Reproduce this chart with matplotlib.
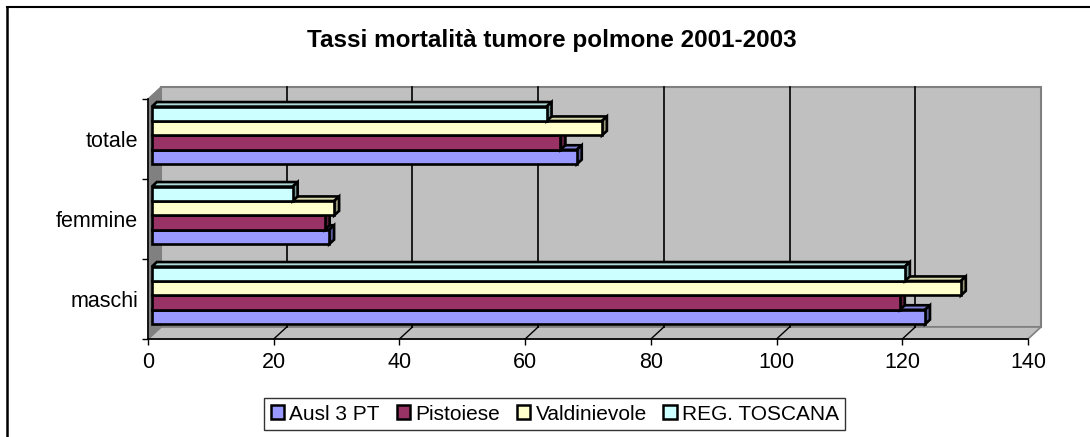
import numpy as np
import matplotlib.pyplot as plt
from matplotlib.patches import Polygon, Patch
from matplotlib.lines import Line2D

plt.rcParams['font.family'] = ['Liberation Sans', 'DejaVu Sans']

# tassi per 100.000 - categorie dal basso verso l'alto
categorie = ['maschi', 'femmine', 'totale']
serie = ['Ausl 3 PT', 'Pistoiese', 'Valdinievole', 'REG. TOSCANA']
ausl = [123.0, 28.2, 67.6]
pistoiese = [119.0, 27.5, 65.0]
valdinievole = [128.7, 29.0, 71.6]
toscana = [119.8, 22.4, 62.8]
colori = ['#9999FF', '#993366', '#FFFFCC', '#CCFFFF']
xticks = [0, 20, 40, 60, 80, 100, 120, 140]

valori = [ausl, pistoiese, valdinievole, toscana]

fig = plt.figure(figsize=(10.9, 4.37), dpi=100)
ax = fig.add_axes([148/1090, 1-339/437, 880/1090, 240/437])
xmax = 140
ax.set_xlim(0, xmax)
ax.set_ylim(-0.5, 2.5)

# profondita' della prospettiva (in unita' dati)
DX = 13 * xmax / 880
DY = 12 * 3 / 240


def proj(x, y, d):
    return (x + d*DX, y + d*DY)


def faccia(pts, fc, ec, lw, z):
    p = Polygon(pts, closed=True, facecolor=fc, edgecolor=ec, lw=lw,
                zorder=z, clip_on=False, joinstyle='miter')
    ax.add_patch(p)


y0, y1 = -0.5, 2.5
# parete di fondo
faccia([proj(0, y0, 1), proj(xmax, y0, 1), proj(xmax, y1, 1), proj(0, y1, 1)],
       '#C0C0C0', '#808080', 1.5, 1)
# pavimento
faccia([proj(0, y0, 0), proj(xmax, y0, 0), proj(xmax, y0, 1), proj(0, y0, 1)],
       '#C0C0C0', '#808080', 1.2, 1)
# parete laterale
faccia([proj(0, y0, 0), proj(0, y0, 1), proj(0, y1, 1), proj(0, y1, 0)],
       '#808080', '#808080', 1.0, 1)

# griglia sul fondo e sul pavimento
for xt in xticks[1:-1]:
    xa, ya = proj(xt, y0, 1)
    xb, yb = proj(xt, y1, 1)
    ax.plot([xa, xb], [ya, yb], color='black', lw=1.2, zorder=2, clip_on=False)
    xc, yc = proj(xt, y0, 0)
    ax.plot([xc, xa], [yc, ya], color='black', lw=1.0, zorder=2, clip_on=False)


def scurisci(c, f):
    r, g, b = plt.matplotlib.colors.to_rgb(c)
    return (r*f, g*f, b*f)


# barre 3d
h = 0.18
d0, d1 = 0.3, 0.68
lwb = 1.9
for i, (vals, col) in enumerate(zip(valori, colori)):
    for j, v in enumerate(vals):
        yb = j - 2*h + i*h
        yt = yb + h
        xs = d0*DX
        # faccia superiore
        faccia([proj(0, yt, d0), proj(v, yt, d0), proj(v, yt, d1), proj(0, yt, d1)],
               scurisci(col, 0.85), 'black', lwb, 3 + i)
        # faccia laterale
        faccia([proj(v, yb, d0), proj(v, yb, d1), proj(v, yt, d1), proj(v, yt, d0)],
               scurisci(col, 0.6), 'black', lwb, 3 + i)
        # faccia frontale
        ax.barh(yb + d0*DY, v, height=h, left=xs, align='edge', color=col,
                edgecolor='black', lw=lwb, zorder=3 + i)

# assi
for s in ['top', 'right']:
    ax.spines[s].set_visible(False)
ax.spines['left'].set_linewidth(1.2)
ax.spines['bottom'].set_linewidth(1.2)
ax.spines['left'].set_zorder(10)
ax.spines['bottom'].set_zorder(10)
ax.set_xticks(xticks)
ax.set_xticklabels([str(t) for t in xticks], fontsize=15.5)
ax.tick_params(axis='x', direction='out', length=4, width=1, pad=5)
ax.set_yticks([-0.5, 0.5, 1.5, 2.5])
ax.set_yticklabels([])
ax.tick_params(axis='y', direction='out', length=4, width=1)
ax.set_yticks([0, 1, 2], minor=True)
ax.set_yticklabels(categorie, minor=True, fontsize=15.5)
ax.tick_params(axis='y', which='minor', length=0, pad=7)
ax.patch.set_visible(False)

fig.text(552/1090, 1-40/437, 'Tassi mortalità tumore polmone 2001-2003',
         ha='center', va='center', fontsize=17.5, fontweight='bold')

handles = [Patch(facecolor=c, edgecolor='black', lw=1.8) for c in colori]
leg = fig.legend(handles, serie, loc='center', bbox_to_anchor=(555/1090, 1-414/437),
                 ncol=4, fontsize=15, frameon=True, fancybox=False,
                 handlelength=0.65, handleheight=0.65, handletextpad=0.25,
                 columnspacing=0.8, borderpad=0.3, borderaxespad=0)
leg.get_frame().set_edgecolor('black')
leg.get_frame().set_linewidth(1.0)

# cornice del grafico
fig.add_artist(Line2D([6.5/1090, 1.0], [1-6.5/437, 1-6.5/437], color='black', lw=1.5,
                      transform=fig.transFigure))
fig.add_artist(Line2D([6.5/1090, 6.5/1090], [0, 1-6.5/437], color='black', lw=1.8,
                      transform=fig.transFigure))

fig.savefig('out.png', dpi=100)
